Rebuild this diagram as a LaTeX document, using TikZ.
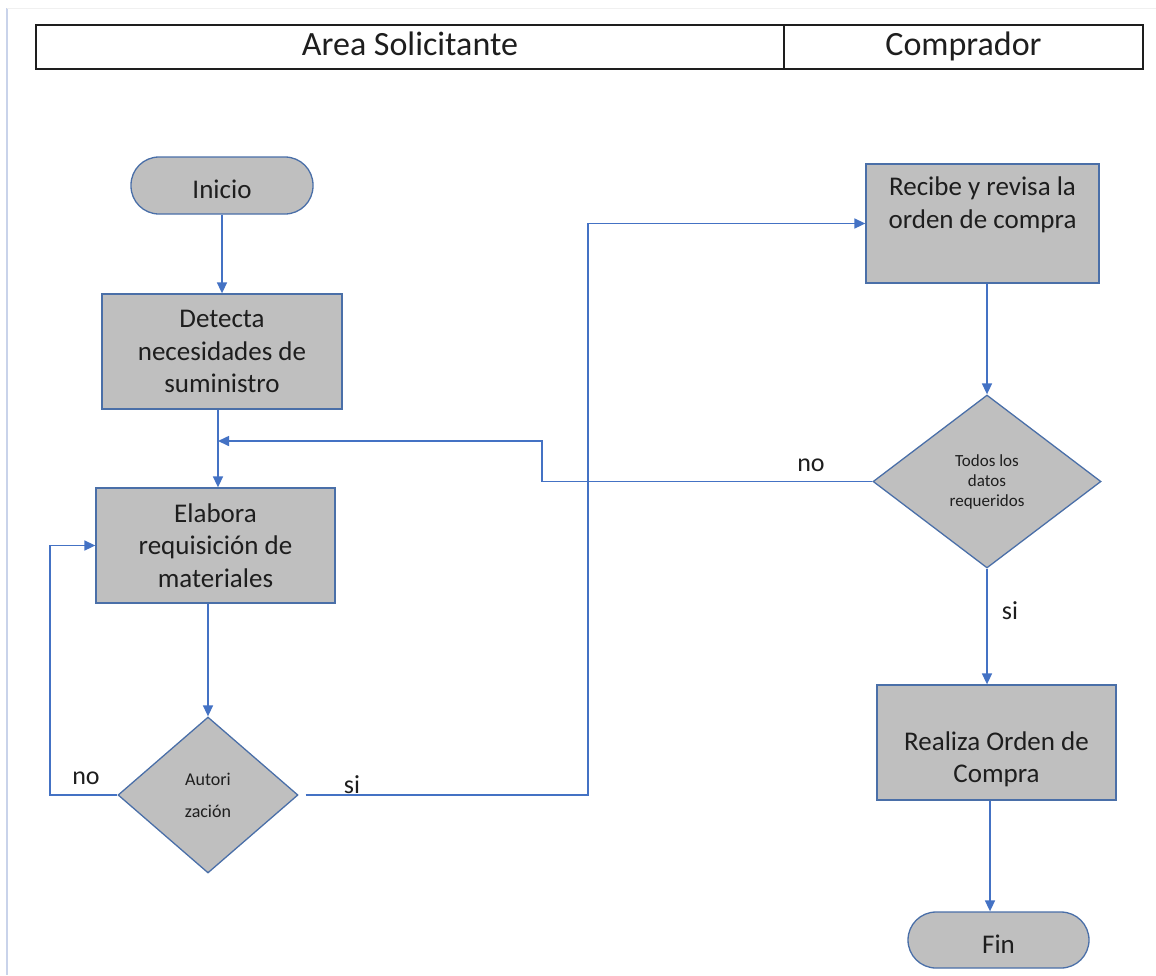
\documentclass[tikz,border=0pt]{standalone}
\usepackage{fontspec}
\setmainfont{Carlito}
\usetikzlibrary{shapes.geometric,arrows.meta}
\definecolor{flowline}{HTML}{4472C4}
\definecolor{boxedge}{HTML}{4A6FA8}
\definecolor{boxfill}{HTML}{BFBFBF}
\definecolor{inkgray}{HTML}{1E1E1E}
\definecolor{pagerule}{HTML}{C9D3EA}
\begin{document}
\begin{tikzpicture}[x=1pt,y=-1pt,
  lane/.style={draw=inkgray,line width=2.2pt,minimum height=44pt,inner sep=0pt,
    text height=24pt,text depth=7pt,
    font=\fontsize{34}{40}\selectfont,text=inkgray},
  process/.style={draw=boxedge,line width=1.3pt,fill=boxfill,inner sep=0pt,
    align=center,text=inkgray,font=\fontsize{27}{32.5}\selectfont},
  terminal/.style={process,rounded corners=28pt,text height=30pt,text depth=4pt},
  decision/.style={diamond,draw=boxedge,line width=1.3pt,fill=boxfill,inner sep=0pt,
    align=center,text=inkgray},
  flow/.style={draw=flowline,line width=1.6pt},
  arrow/.style={flow,-{Triangle[length=11pt,width=10pt]}},
  tag/.style={text=inkgray,font=\fontsize{26}{30}\selectfont,inner sep=0pt}]

\useasboundingbox (0,0) rectangle (1156,975);

% page edge rules
\draw[pagerule,line width=1.5pt] (7,8) -- (7,975);
\draw[gray!12,line width=1pt] (7,8) -- (1156,8);

% swimlane header
\node[lane,minimum width=748pt] (laneA) at (410,47) {Area Solicitante};
\node[lane,minimum width=359pt] (laneB) at (963.5,47) {Comprador};

% requesting area
\node[terminal,minimum width=182pt,minimum height=57pt] (inicio) at (222,185.5) {Inicio};
\node[process,minimum width=240pt,minimum height=115pt] (detecta) at (222,351.5)
  {Detecta\\necesidades de\\suministro};
\node[process,minimum width=239pt,minimum height=115pt] (elabora) at (215.5,545.5)
  {Elabora\\requisición de\\materiales};
\node[decision,minimum width=180pt,minimum height=156pt,
  font=\fontsize{18}{32}\selectfont] (autoriza) at (208,795) {Autori\\zación};

% buyer
\node[process,minimum width=233pt,minimum height=119pt] (recibe) at (982.5,223.5) {};
\node[process,draw=none,fill=none] (recibeTxt) at (982.5,205)
  {Recibe y revisa la\\orden de compra};
\node[decision,minimum width=228pt,minimum height=173pt,
  font=\fontsize{17}{20}\selectfont] (todos) at (987,481.5) {Todos los\\datos\\requeridos};
\node[process,minimum width=239pt,minimum height=115pt] (realiza) at (996.5,742.5) {};
\node[process,draw=none,fill=none] (realizaTxt) at (996.5,759.5)
  {Realiza Orden de\\Compra};
\node[terminal,minimum width=181pt,minimum height=56pt] (fin) at (998.5,940) {Fin};

% routing points
\coordinate (merge) at (218,441);
\coordinate (backTurn) at (542,441);
\coordinate (loopTurn) at (50,795);
\coordinate (siTurn) at (588,795);
\coordinate (finLine) at (990,0);

% connectors
\draw[arrow] (inicio.south) -- (detecta.north);
\draw[arrow] (merge |- detecta.south) -- (merge |- elabora.north);
\draw[arrow] (autoriza |- elabora.south) -- (autoriza.north);
\draw[arrow] (autoriza.west) -- (loopTurn) |- (elabora.west);
\draw[arrow] ([xshift=7pt]autoriza.east) -- (siTurn) |- (recibe.west);
\draw[arrow] (todos |- recibe.south) -- (todos.north);
\draw[arrow] (todos.west) -- (todos.west -| backTurn) -- (backTurn) -- (merge);
\draw[arrow] (todos.south) -- (todos |- realiza.north);
\draw[arrow] (finLine |- realiza.south) -- (finLine |- fin.north);

% branch labels
\node[tag] (noA) at (86,778) {no};
\node[tag] (siA) at (352,785) {si};
\node[tag] (noB) at (811,465) {no};
\node[tag] (siB) at (1010,611) {si};
\end{tikzpicture}
\end{document}
